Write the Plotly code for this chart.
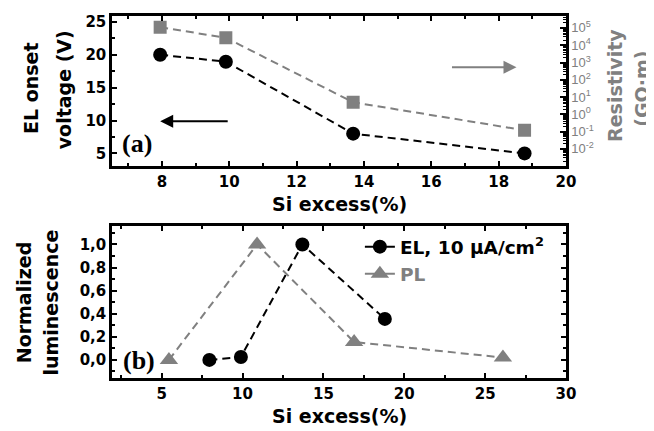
import plotly.graph_objects as go

# ---------------- data ----------------
# panel (a)
si_a = [7.95, 9.9, 13.68, 18.77]
el_onset_v = [20.0, 18.95, 8.0, 5.0]
resistivity = [1.1e5, 2.7e4, 5.0, 0.12]
# panel (b)
el_si = [7.95, 9.9, 13.7, 18.8]
el_norm = [0.0, 0.025, 1.0, 0.355]
pl_si = [5.45, 10.9, 16.9, 26.1]
pl_norm = [0.0, 1.0, 0.155, 0.02]

res_tickvals = [1e-2, 1e-1, 1e0, 1e1, 1e2, 1e3, 1e4, 1e5]
res_ticktext = ["10<sup>-2</sup>", "10<sup>-1</sup>", "10<sup>0</sup>", "10<sup>1</sup>",
                "10<sup>2</sup>", "10<sup>3</sup>", "10<sup>4</sup>", "10<sup>5</sup>"]
lum_tickvals = [0.0, 0.2, 0.4, 0.6, 0.8, 1.0]
lum_ticktext = ["0,0", "0,2", "0,4", "0,6", "0,8", "1,0"]

GRAY = "#808080"
FONT = "DejaVu Sans"
DASH = "8px,5px"

res_minor = [m * 10 ** e for e in range(-3, 6) for m in range(2, 10)]

fig = go.Figure()

# panel (a)
fig.add_trace(go.Scatter(x=si_a, y=resistivity, xaxis="x", yaxis="y2", mode="lines+markers",
                         line=dict(color=GRAY, width=2, dash=DASH),
                         marker=dict(symbol="square", size=13, color=GRAY), showlegend=False))
fig.add_trace(go.Scatter(x=si_a, y=el_onset_v, xaxis="x", yaxis="y", mode="lines+markers",
                         line=dict(color="black", width=2, dash=DASH),
                         marker=dict(symbol="circle", size=14, color="black"), showlegend=False))

# panel (b)
fig.add_trace(go.Scatter(x=pl_si, y=pl_norm, xaxis="x2", yaxis="y3", mode="lines+markers",
                         line=dict(color=GRAY, width=2, dash=DASH),
                         marker=dict(symbol="triangle-up", size=16, color=GRAY), showlegend=False))
fig.add_trace(go.Scatter(x=el_si, y=el_norm, xaxis="x2", yaxis="y3", mode="lines+markers",
                         line=dict(color="black", width=2, dash=DASH),
                         marker=dict(symbol="circle", size=14, color="black"), showlegend=False))

# legend entries (solid short lines)
fig.add_trace(go.Scatter(x=[None], y=[None], xaxis="x2", yaxis="y3", mode="lines+markers",
                         name="EL, 10 \u03bcA/cm<sup>2</sup>", legendgroup="a",
                         line=dict(color="black", width=2),
                         marker=dict(symbol="circle", size=14, color="black")))
fig.add_trace(go.Scatter(x=[None], y=[None], xaxis="x2", yaxis="y3", mode="lines+markers",
                         name="<span style='color:#808080'>PL</span>", legendgroup="b",
                         line=dict(color=GRAY, width=2),
                         marker=dict(symbol="triangle-up", size=16, color=GRAY)))

tickfont = dict(family=FONT, size=15, color="black", weight="bold")
common = dict(showline=True, linewidth=2.5, linecolor="black", ticks="inside", ticklen=5,
              tickwidth=2, tickcolor="black", showgrid=False, zeroline=False, tickfont=tickfont)

fig.update_layout(
    width=646, height=423,
    margin=dict(l=104, r=88, t=5, b=53),
    paper_bgcolor="white", plot_bgcolor="white",
    xaxis=dict(domain=[0, 1], anchor="y", range=[6.52, 20], dtick=2, tick0=0, mirror="ticks",
               minor=dict(dtick=1, ticks="inside", ticklen=3, tickwidth=2, tickcolor="black"), **common),
    yaxis=dict(domain=[0.586, 1.0], anchor="x", range=[3.1, 25.9], dtick=5, tick0=0, mirror=True,
               minor=dict(dtick=2.5, ticks="inside", ticklen=3, tickwidth=2, tickcolor="black"), **common),
    yaxis2=dict(overlaying="y", side="right", anchor="x", type="log", range=[-2.98, 5.69],
                tickmode="array", tickvals=res_tickvals, ticktext=res_ticktext,
                showline=True, linewidth=2.5, linecolor="black", ticks="inside", ticklen=6,
                tickwidth=2, tickcolor="black", showgrid=False, zeroline=False,
                tickfont=dict(family="Liberation Sans", size=13, color=GRAY),
                minor=dict(tickmode="array", tickvals=res_minor, ticks="inside", ticklen=3,
                           tickwidth=1, tickcolor="black")),
    xaxis2=dict(domain=[0, 1], anchor="y3", range=[1.93, 30], dtick=5, tick0=0, mirror="ticks",
                minor=dict(dtick=2.5, ticks="inside", ticklen=3, tickwidth=2, tickcolor="black"), **common),
    yaxis3=dict(domain=[0.0, 0.419], anchor="x2", range=[-0.157, 1.157], tickmode="array",
                tickvals=lum_tickvals, ticktext=lum_ticktext, mirror="ticks",
                minor=dict(dtick=0.1, tick0=0, ticks="inside", ticklen=3, tickwidth=2, tickcolor="black"),
                **common),
    legend=dict(x=0.546, y=0.414, xanchor="left", yanchor="top", bgcolor="rgba(0,0,0,0)",
                font=dict(family=FONT, size=18.5, color="black", weight="bold"),
                tracegroupgap=0),
    showlegend=True,
)

title_font = dict(family=FONT, size=19, color="black", weight="bold")
gray_title = dict(family=FONT, size=19, color=GRAY, weight="bold")
ann = []
def A(text, x, y, font, angle=0):
    ann.append(dict(text=text, x=x, y=y, xref="paper", yref="paper", showarrow=False,
                    xanchor="center", yanchor="middle", textangle=angle, font=font))

A("EL onset", -0.177, 0.80, title_font, -90)
A("voltage (V)", -0.104, 0.797, title_font, -90)
A("Resistivity", 1.108, 0.807, gray_title, -90)
A("(G\u03a9\u00b7m)", 1.168, 0.80, gray_title, -90)
A("Si excess(%)", 0.5, 0.482, title_font)
A("Normalized", -0.194, 0.209, title_font, -90)
A("luminescence", -0.134, 0.209, title_font, -90)
A("Si excess(%)", 0.5, -0.104, title_font)
serif = dict(family="Liberation Serif", size=26, color="black", weight="bold")
A("(a)", 0.054, 0.648, serif)
A("(b)", 0.059, 0.048, serif)

# arrows
ann.append(dict(x=7.95, y=9.9, ax=10.0, ay=9.9, xref="x", yref="y", axref="x", ayref="y",
                text="", showarrow=True, arrowhead=2, arrowsize=1.3, arrowwidth=2, arrowcolor="black"))
ann.append(dict(x=18.53, y=18.1, ax=16.57, ay=18.1, xref="x", yref="y", axref="x", ayref="y",
                text="", showarrow=True, arrowhead=2, arrowsize=1.3, arrowwidth=2, arrowcolor=GRAY))

fig.update_layout(annotations=ann)
fig.write_html("out.html")
